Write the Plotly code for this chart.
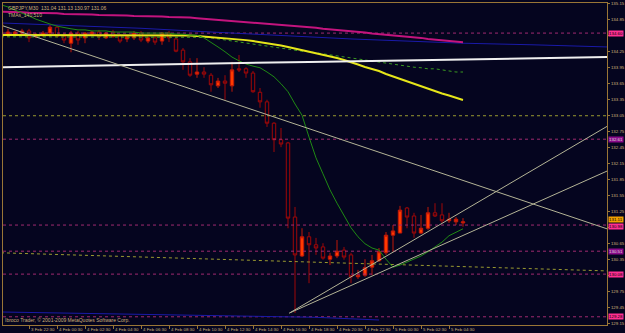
import plotly.graph_objects as go

# ---------------- data ----------------
bars = list(range(67))  # 30-minute bars, 3 Feb 20:30 .. 5 Feb 05:30

opens = [134.81, 134.56, 134.58, 134.60, 134.64, 134.53, 134.56, 134.60, 134.71, 134.54,
         134.41, 134.60, 134.51, 134.58, 134.62, 134.51, 134.62, 134.55, 134.49, 134.51,
         134.60, 134.45, 134.51, 134.45, 134.60, 134.49, 134.28, 134.06, 133.83, 133.87,
         133.81, 133.61, 133.70, 133.61, 133.93, 133.93, 133.85, 133.49, 133.31, 132.91,
         132.60, 132.54, 131.15, 130.42, 130.78, 130.63, 130.59, 130.36, 130.42, 130.53,
         130.44, 130.03, 130.06, 130.21, 130.33, 130.48, 130.81, 130.85, 131.32, 131.17,
         130.85, 130.94, 131.23, 131.19, 131.08, 131.06, 131.04]
highs = [134.85, 134.68, 134.64, 134.68, 134.68, 134.60, 134.64, 134.75, 134.75, 134.60,
         134.64, 134.64, 134.62, 134.64, 134.66, 134.62, 134.66, 134.58, 134.56, 134.64,
         134.64, 134.53, 134.53, 134.62, 134.64, 134.53, 134.32, 134.13, 134.13, 133.96,
         133.85, 133.76, 133.81, 134.06, 134.19, 133.96, 133.89, 133.57, 133.35, 132.93,
         132.82, 132.56, 131.34, 130.94, 130.87, 130.76, 130.66, 130.48, 130.72, 130.59,
         130.48, 130.16, 130.36, 130.44, 130.57, 130.87, 131.00, 131.36, 131.34, 131.23,
         131.19, 131.34, 131.41, 131.41, 131.23, 131.15, 131.13]
lows = [134.55, 134.53, 134.55, 134.56, 134.43, 134.51, 134.53, 134.53, 134.51, 134.41,
        134.24, 134.38, 134.41, 134.55, 134.47, 134.49, 134.51, 134.41, 134.43, 134.47,
        134.43, 134.41, 134.38, 134.38, 134.43, 134.24, 133.91, 133.78, 133.76, 133.76,
        133.50, 133.57, 133.35, 133.50, 133.87, 133.76, 133.48, 133.20, 132.84, 132.37,
        132.46, 130.94, 129.35, 130.40, 129.91, 130.44, 130.35, 130.25, 130.38, 130.35,
        129.91, 129.99, 130.03, 130.06, 130.31, 130.44, 130.50, 130.85, 130.94, 130.76,
        130.83, 130.91, 131.15, 131.04, 131.04, 131.00, 130.97]
closes = [134.58, 134.62, 134.62, 134.64, 134.51, 134.56, 134.60, 134.71, 134.54, 134.47,
          134.60, 134.47, 134.60, 134.62, 134.53, 134.60, 134.53, 134.45, 134.53, 134.60,
          134.47, 134.51, 134.43, 134.60, 134.51, 134.26, 134.06, 133.81, 133.87, 133.83,
          133.63, 133.70, 133.66, 133.91, 133.91, 133.85, 133.50, 133.31, 132.91, 132.60,
          132.52, 131.13, 130.44, 130.78, 130.63, 130.57, 130.38, 130.42, 130.51, 130.40,
          130.03, 130.06, 130.20, 130.33, 130.50, 130.81, 130.89, 131.28, 131.15, 130.85,
          130.94, 131.23, 131.17, 131.08, 131.11, 131.11, 131.06]

ma_green = [135.13, 135.09, 135.03, 134.98, 134.92, 134.86, 134.81, 134.77, 134.73, 134.70,
            134.68, 134.66, 134.66, 134.64, 134.64, 134.64, 134.62, 134.62, 134.62, 134.62,
            134.60, 134.60, 134.60, 134.60, 134.60, 134.58, 134.58, 134.56, 134.56, 134.51,
            134.43, 134.34, 134.25, 134.15, 134.08, 134.02, 133.98, 133.95, 133.87, 133.78,
            133.65, 133.50, 133.27, 133.06, 132.65, 132.26, 131.96, 131.66, 131.41, 131.17,
            130.95, 130.78, 130.65, 130.57, 130.53, 130.36, 130.21, 130.25, 130.31, 130.36,
            130.42, 130.50, 130.59, 130.68, 130.80, 130.87, 130.93]
ma_yellow = [134.564, 134.564, 134.564, 134.564, 134.564, 134.564, 134.564, 134.564, 134.564, 134.564,
             134.564, 134.564, 134.564, 134.564, 134.564, 134.564, 134.564, 134.564, 134.564, 134.564,
             134.564, 134.564, 134.564, 134.564, 134.564, 134.562, 134.559, 134.554, 134.545, 134.536,
             134.526, 134.517, 134.508, 134.494, 134.481, 134.468, 134.451, 134.433, 134.414, 134.391,
             134.367, 134.339, 134.311, 134.280, 134.254, 134.226, 134.198, 134.170, 134.133, 134.095,
             134.058, 134.010, 133.964, 133.926, 133.889, 133.833, 133.786, 133.739, 133.692, 133.645,
             133.608, 133.561, 133.514, 133.467, 133.429, 133.383, 133.345]
ma_dotted = [134.53, 134.53, 134.53, 134.53, 134.53, 134.53, 134.53, 134.53, 134.53, 134.53,
             134.53, 134.53, 134.53, 134.53, 134.53, 134.53, 134.53, 134.53, 134.53, 134.53,
             134.53, 134.53, 134.53, 134.53, 134.53, 134.53, 134.53, 134.53, 134.53, 134.52,
             134.51, 134.49, 134.47, 134.45, 134.43, 134.41, 134.40, 134.38, 134.36, 134.34,
             134.32, 134.30, 134.28, 134.26, 134.25, 134.23, 134.21, 134.19, 134.17, 134.15,
             134.13, 134.11, 134.10, 134.08, 134.06, 134.04, 134.02, 134.00, 133.98, 133.96,
             133.95, 133.93, 133.93, 133.91, 133.89, 133.87, 133.87]
ma_magenta = [135.00, 135.00, 134.99, 134.99, 134.98, 134.98, 134.98, 134.97, 134.97, 134.96,
              134.96, 134.96, 134.95, 134.95, 134.94, 134.94, 134.94, 134.93, 134.93, 134.92,
              134.92, 134.92, 134.91, 134.91, 134.90, 134.90, 134.89, 134.89, 134.88, 134.87,
              134.86, 134.85, 134.84, 134.83, 134.82, 134.81, 134.80, 134.79, 134.77, 134.76,
              134.75, 134.74, 134.73, 134.72, 134.71, 134.70, 134.68, 134.67, 134.66, 134.65,
              134.64, 134.62, 134.61, 134.59, 134.58, 134.56, 134.55, 134.54, 134.53, 134.52,
              134.51, 134.49, 134.48, 134.46, 134.45, 134.44, 134.43]
blue_x = [0, 10, 20, 30, 40, 50, 60, 66, 76, 86.6]
blue_y = [134.79, 134.74, 134.69, 134.62, 134.55, 134.49, 134.44, 134.41, 134.38, 134.34]
blue_low_x = [0, 15, 30, 45, 54]
blue_low_y = [129.37, 129.34, 129.31, 129.27, 129.22]
white_x = [0, 31, 44, 86.6]
white_y = [133.96, 134.04, 134.06, 134.15]

# trend lines: two anchor points (bar, price) each
desc_line = ([0.86, 43.71], [134.71, 132.82])
up_line1 = ([41.2, 65.57], [129.35, 131.23])
up_line2 = ([41.2, 65.57], [129.35, 130.78])

pink_levels = [134.60, 132.61, 131.00, 130.51, 130.08, 129.28]
olive_level = 133.05
olive_slope_x = [0, 86.6]
olive_slope_y = [130.48, 130.14]

box_prices = [134.60, 132.61, 131.11, 130.98, 130.51, 130.08, 129.28]
box_colors = ["#ff2f92", "#8a0a8a", "#f0a000", "#ff2f92", "#8a0a8a", "#ff2f92", "#ff2f92"]

time_ticks = [0, 4, 8, 12, 16, 20, 24, 28, 32, 36, 40, 44, 48, 52, 56, 60, 64]
time_labels = ["3 Feb 2009", "3 Feb 22:30", "4 Feb 00:30", "4 Feb 02:30", "4 Feb 04:30",
               "4 Feb 06:30", "4 Feb 08:30", "4 Feb 10:30", "4 Feb 12:30", "4 Feb 14:30",
               "4 Feb 16:30", "4 Feb 18:30", "4 Feb 20:30", "4 Feb 22:30", "5 Feb 00:30",
               "5 Feb 02:30", "5 Feb 04:30"]
price_ticks = [round(129.15 + 0.30 * i, 2) for i in range(21)]

# ---------------- styling ----------------
BG = "#05051f"
FRAME = "#9a7636"
TXT = "#cdb27a"
XR = [0.2857, 86.571]
YR = [129.126, 135.164]
FONT = "Liberation Sans"
PX_PER_PRICE = 322 / (YR[1] - YR[0])

# a price label is hidden where a coloured level box covers it
price_labels = [("" if any(abs(p - b) * PX_PER_PRICE < 5 for b in box_prices) else f"{p:.2f}")
                for p in price_ticks]

fig = go.Figure()


def extend(line, x0, x1):
    (xa, xb), (ya, yb) = line
    s = (yb - ya) / (xb - xa)
    return [x0, x1], [ya + s * (x0 - xa), ya + s * (x1 - xa)]


# horizontal levels
for p in pink_levels:
    fig.add_trace(go.Scatter(x=XR, y=[p, p], mode="lines",
                             line=dict(color="#a02a70", width=1, dash="dot")))
fig.add_trace(go.Scatter(x=XR, y=[olive_level, olive_level], mode="lines",
                         line=dict(color="#9a9a30", width=1, dash="dot")))
fig.add_trace(go.Scatter(x=olive_slope_x, y=olive_slope_y, mode="lines",
                         line=dict(color="#9a9a30", width=1, dash="dot")))

# candles
fig.add_trace(go.Candlestick(
    x=bars, open=opens, high=highs, low=lows, close=closes,
    increasing=dict(fillcolor="#ff3a00", line=dict(color="#c01808", width=1)),
    decreasing=dict(fillcolor=BG, line=dict(color="#a00808", width=1)),
    whiskerwidth=0, hoverinfo="skip"))

# moving averages
fig.add_trace(go.Scatter(x=blue_x, y=blue_y, mode="lines", line=dict(color="#1a1aa8", width=1)))
fig.add_trace(go.Scatter(x=blue_low_x, y=blue_low_y, mode="lines", line=dict(color="#1a1aa8", width=1)))
fig.add_trace(go.Scatter(x=bars, y=ma_magenta, mode="lines", line=dict(color="#c4147e", width=2)))
fig.add_trace(go.Scatter(x=bars, y=ma_dotted, mode="lines", line=dict(color="#3a9a20", width=1, dash="dot")))
fig.add_trace(go.Scatter(x=bars, y=ma_yellow, mode="lines", line=dict(color="#e6e61a", width=2)))
fig.add_trace(go.Scatter(x=bars, y=ma_green, mode="lines", line=dict(color="#1f8a14", width=1)))
fig.add_trace(go.Scatter(x=white_x, y=white_y, mode="lines", line=dict(color="#f0f0f0", width=2)))

# trend lines
for ln, x0 in ((desc_line, XR[0]), (up_line1, up_line1[0][0]), (up_line2, up_line2[0][0])):
    lx, ly = extend(ln, x0, XR[1])
    fig.add_trace(go.Scatter(x=lx, y=ly, mode="lines", line=dict(color="#b4b496", width=1)))

annotations = [
    dict(xref="paper", yref="paper", x=0.005, y=1.0, xanchor="left", yanchor="top",
         text="GBPJPY,M30  131.04 131.13 130.97 131.06", showarrow=False,
         font=dict(size=5, color=TXT, family=FONT)),
    dict(xref="paper", yref="paper", x=0.005, y=0.978, xanchor="left", yanchor="top",
         text="TMAs_140,510", showarrow=False, font=dict(size=5, color=TXT, family=FONT)),
    dict(xref="paper", yref="paper", x=0.0, y=0.0, xanchor="left", yanchor="bottom",
         text="Ibroco Trader, © 2001-2009 MetaQuotes Software Corp.", showarrow=False,
         font=dict(size=5, color=TXT, family=FONT)),
]
for p, c in zip(box_prices, box_colors):
    annotations.append(dict(xref="paper", yref="y", x=1.002, y=p, xanchor="left", yanchor="middle",
                            text=f"{p:.2f}", showarrow=False, bgcolor=c, borderpad=0,
                            font=dict(size=4.4, color="#000000" if c != "#8a0a8a" else "#dddddd",
                                      family=FONT)))
for t, lab in zip(time_ticks, time_labels):
    annotations.append(dict(xref="x", yref="paper", x=t, y=-0.004, xanchor="left", yanchor="top",
                            xshift=1, text=lab, showarrow=False, borderpad=0,
                            font=dict(size=4.4, color=TXT, family=FONT)))

fig.update_layout(
    template="none",
    width=625, height=333,
    margin=dict(l=3, r=18, t=3, b=8),
    paper_bgcolor=BG, plot_bgcolor=BG,
    showlegend=False,
    annotations=annotations,
    xaxis=dict(range=XR, tickvals=time_ticks, showticklabels=False, ticks="outside",
               ticklen=3, tickcolor=FRAME, showgrid=False, zeroline=False,
               showline=True, linecolor=FRAME, linewidth=1, mirror=True,
               rangeslider=dict(visible=False), automargin=False, fixedrange=True),
    yaxis=dict(range=YR, side="right", tickvals=price_ticks, ticktext=price_labels,
               ticks="outside", ticklen=2, tickcolor=FRAME,
               tickfont=dict(size=4.4, color=TXT, family=FONT), showgrid=False, zeroline=False,
               showline=True, linecolor=FRAME, linewidth=1, mirror=True, automargin=False,
               fixedrange=True),
)

fig.write_html("out.html")
